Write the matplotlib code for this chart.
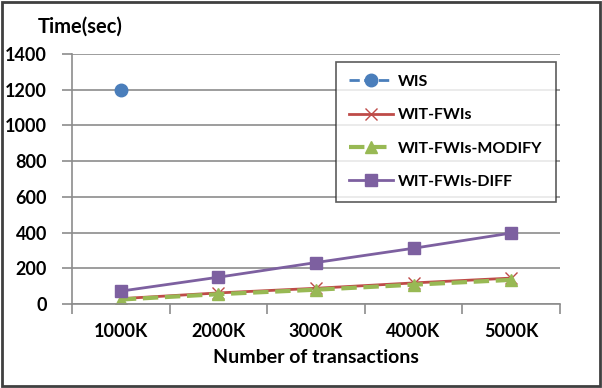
import matplotlib.pyplot as plt
from matplotlib.patches import Rectangle

# data
categories = ['1000K', '2000K', '3000K', '4000K', '5000K']
wis = [1200]
wit_fwis = [30, 62, 88, 118, 145]
wit_modify = [25, 55, 80, 108, 135]
wit_diff = [72, 150, 232, 312, 397]

plt.rcParams['font.family'] = ['Lato', 'DejaVu Sans']
plt.rcParams['font.weight'] = 'bold'

fig = plt.figure(figsize=(6.02, 3.88), dpi=100)
ax = fig.add_axes([0.1196, 0.2165, 0.8104, 0.6445])

x = list(range(len(categories)))

ax.plot(x[:len(wis)], wis, linestyle='--', color='#4a7ebb', marker='o',
        markersize=9, linewidth=2, label='WIS')
ax.plot(x, wit_fwis, linestyle='-', color='#be4b48', marker='x',
        markersize=8, linewidth=2, label='WIT-FWIs')
ax.plot(x, wit_modify, linestyle='--', color='#98b954', marker='^',
        markersize=9, linewidth=3, label='WIT-FWIs-MODIFY')
ax.plot(x, wit_diff, linestyle='-', color='#7d60a0', marker='s',
        markersize=8.5, linewidth=2, label='WIT-FWIs-DIFF')

ax.set_xlim(-0.5, len(categories) - 0.5)
ax.set_ylim(0, 1400)
ax.set_yticks(range(0, 1401, 200))
ax.yaxis.grid(True, color='#8c8c8c', linewidth=1.2)
ax.set_axisbelow(True)

ax.set_xticks(x)
ax.set_xticklabels(categories, fontsize=13, fontweight='bold')
ax.set_xticks([i - 0.5 for i in range(len(categories) + 1)], minor=True)
ax.tick_params(axis='x', which='major', length=0, pad=14)
ax.tick_params(axis='x', which='minor', length=7, color='#8c8c8c', width=1.2)
ax.tick_params(axis='y', length=7, color='#8c8c8c', width=1.2, pad=11,
               labelsize=13)
for lbl in ax.get_yticklabels():
    lbl.set_fontweight('bold')

for s in ['top', 'right']:
    ax.spines[s].set_visible(False)
for s in ['left', 'bottom']:
    ax.spines[s].set_color('#8c8c8c')
    ax.spines[s].set_linewidth(1.2)

ax.set_xlabel('Number of transactions', fontsize=14, fontweight='bold',
              labelpad=6)
fig.text(0.062, 1 - 27 / 388, 'Time(sec)', fontsize=14.5, fontweight='bold',
         va='center', ha='left')

leg = ax.legend(loc='upper left', bbox_to_anchor=(0.541, 0.968), fontsize=11.5,
                frameon=True, fancybox=False, edgecolor='#333333',
                handlelength=2.8, labelspacing=1.2, borderpad=0.8,
                handletextpad=0.3, borderaxespad=0)
leg.get_frame().set_linewidth(1.2)
for t in leg.get_texts():
    t.set_fontweight('bold')

fig.patches.append(Rectangle((0.004, 0.006), 0.992, 0.988,
                             transform=fig.transFigure, fill=False,
                             edgecolor='#404040', linewidth=2))

plt.savefig('out.png', dpi=100)
